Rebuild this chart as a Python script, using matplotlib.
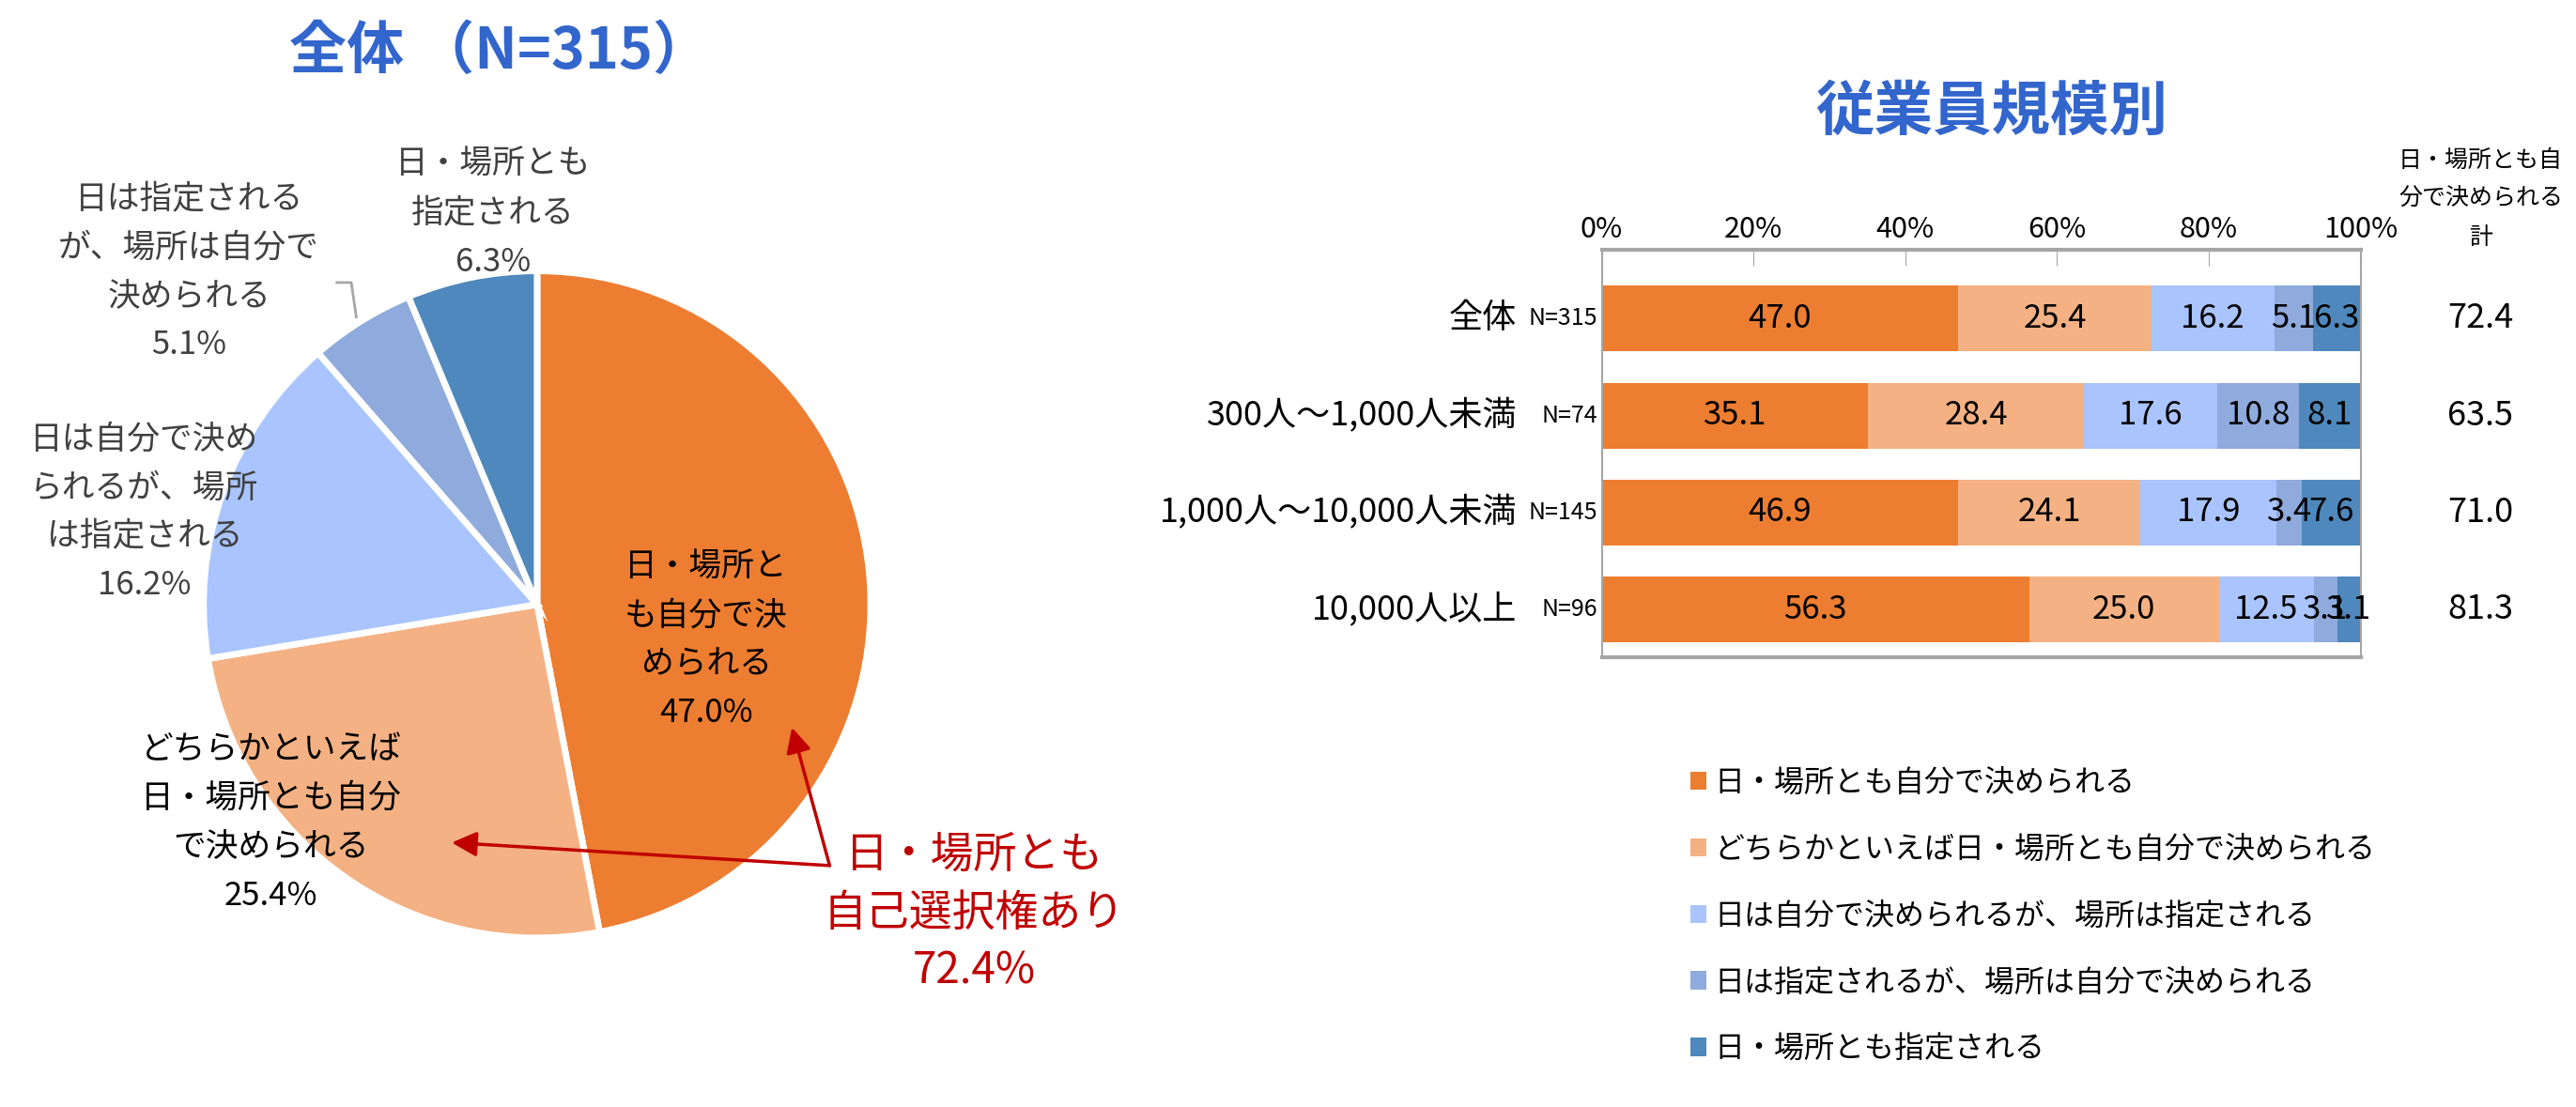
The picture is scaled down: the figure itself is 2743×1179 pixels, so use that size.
import matplotlib.pyplot as plt
from matplotlib.patches import Patch
import numpy as np

plt.rcParams['font.family'] = ['Noto Sans CJK JP', 'DejaVu Sans']

# ---- data ----
CATS = ["日・場所とも自分で決められる",
        "どちらかといえば日・場所とも自分で決められる",
        "日は自分で決められるが、場所は指定される",
        "日は指定されるが、場所は自分で決められる",
        "日・場所とも指定される"]
COLORS = ["#ED7D31", "#F4B183", "#A9C4FE", "#8FAADC", "#4E88BC"]

pie_vals = [47.0, 25.4, 16.2, 5.1, 6.3]
pie_labels = ["日・場所と\nも自分で決\nめられる\n47.0%",
              "どちらかといえば\n日・場所とも自分\nで決められる\n25.4%",
              "日は自分で決め\nられるが、場所\nは指定される\n16.2%",
              "日は指定される\nが、場所は自分で\n決められる\n5.1%",
              "日・場所とも\n指定される\n6.3%"]

groups = ["全体", "300人～1,000人未満", "1,000人～10,000人未満", "10,000人以上"]
group_n = ["N=315", "N=74", "N=145", "N=96"]
bar_vals = np.array([
    [47.0, 25.4, 16.2, 5.1, 6.3],
    [35.1, 28.4, 17.6, 10.8, 8.1],
    [46.9, 24.1, 17.9, 3.4, 7.6],
    [56.3, 25.0, 12.5, 3.1, 3.1],
])
totals = [72.4, 63.5, 71.0, 81.3]

BLUE = "#3366CC"
RED = "#C00000"

fig = plt.figure(figsize=(27.43, 11.79), dpi=100)

# ============================================================
# pie (left)
# ============================================================
cx, cy, r = 0.2085, 0.454, 0.1295
axp = fig.add_axes([cx - r, cy - r * 2743 / 1179, 2 * r, 2 * r * 2743 / 1179])
axp.pie(pie_vals, colors=COLORS, startangle=90, counterclock=False, radius=1,
        wedgeprops=dict(edgecolor="white", linewidth=5))
axp.set_xlim(-1, 1)
axp.set_ylim(-1, 1)
axp.set_aspect("equal")
axp.axis("off")

label_pos = [(0.507, -0.108), (-0.798, -0.655), (-1.177, 0.276),
             (-1.044, 0.995), (-0.133, 1.172)]
label_col = ["black", "black", "#404040", "#404040", "#404040"]
for txt, (x, y), c in zip(pie_labels, label_pos, label_col):
    axp.text(x, y, txt, ha="center", va="center", fontsize=25, color=c,
             linespacing=1.62)

# leader line for 5.1%
axp.plot([-0.60, -0.557, -0.542], [0.965, 0.965, 0.862], color="#A6A6A6", lw=2)

# red callout
axp.text(1.31, -0.926, "日・場所とも\n自己選択権あり\n72.4%", ha="center", va="center",
         fontsize=33, color=RED, linespacing=1.36)
for head in [(0.764, -0.369), (-0.256, -0.714)]:
    axp.annotate("", xy=head, xytext=(0.877, -0.783),
                 arrowprops=dict(arrowstyle="-|>,head_length=1.6,head_width=0.8",
                                 color=RED, lw=2.5, shrinkA=0, shrinkB=0))

fig.text(0.194, 0.953, "全体 （N=315）", ha="center", va="center",
         fontsize=44, fontweight="bold", color=BLUE)

# ============================================================
# stacked bars (right)
# ============================================================
axb = fig.add_axes([0.6218, 0.4065, 0.2946, 0.368])
y = np.arange(len(groups))
left = np.zeros(len(groups))
for j in range(len(CATS)):
    vals = bar_vals[:, j]
    axb.barh(y, vals, left=left, height=0.68, color=COLORS[j], label=CATS[j])
    for i, v in enumerate(vals):
        axb.text(left[i] + v / 2, y[i], f"{v:.1f}", ha="center", va="center",
                 fontsize=25, color="black")
    left += vals

axb.set_xlim(0, 100)
axb.set_ylim(3.49, -0.712)
axb.xaxis.tick_top()
axb.set_xticks(np.arange(0, 101, 20))
axb.set_xticklabels([f"{t}%" for t in range(0, 101, 20)], fontsize=22)
axb.tick_params(axis="x", direction="in", length=12, color="#A6A6A6", pad=4)
axb.set_yticks([])
for s in axb.spines.values():
    s.set_color("#A6A6A6")
    s.set_linewidth(1.5)
axb.spines["top"].set_linewidth(3)
axb.spines["bottom"].set_linewidth(3)

for i, (g, n) in enumerate(zip(groups, group_n)):
    axb.text(-0.006, y[i], n, transform=axb.get_yaxis_transform(), ha="right",
             va="center", fontsize=18)
    axb.text(-0.112, y[i], g, transform=axb.get_yaxis_transform(), ha="right",
             va="center", fontsize=26)
    axb.text(1.158, y[i], f"{totals[i]:.1f}", transform=axb.get_yaxis_transform(),
             ha="center", va="center", fontsize=26)

fig.text(0.963, 0.82, "日・場所とも自\n分で決められる\n計", ha="center", va="center",
         fontsize=18, linespacing=1.75)
fig.text(0.773, 0.899, "従業員規模別", ha="center", va="center",
         fontsize=45, fontweight="bold", color=BLUE)

handles = [Patch(facecolor=c) for c in COLORS]
fig.legend(handles, CATS, loc="upper left", bbox_to_anchor=(0.6456, 0.331),
           frameon=False, fontsize=23, handlelength=0.55, handleheight=0.55,
           handletextpad=0.25, labelspacing=1.22)

fig.savefig("out.png", dpi=100)
